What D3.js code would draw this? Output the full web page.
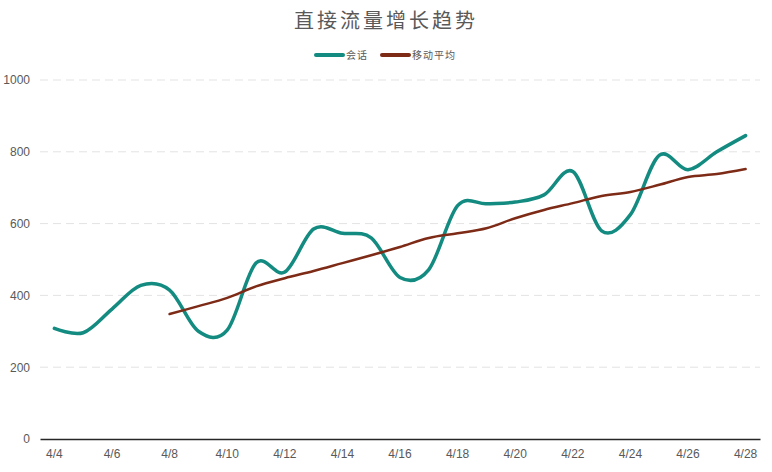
<!DOCTYPE html>
<html><head><meta charset="utf-8">
<script src="https://cdn.jsdelivr.net/npm/d3@7/dist/d3.min.js"></script>
<style>body{margin:0;background:#fff}svg{display:block}</style>
</head><body>
<script>
const dates = ["4/4","4/5","4/6","4/7","4/8","4/9","4/10","4/11","4/12","4/13","4/14","4/15","4/16","4/17","4/18","4/19","4/20","4/21","4/22","4/23","4/24","4/25","4/26","4/27","4/28"];
const sessions = [308,296,362,428,415,300,303,490,465,585,573,560,450,472,650,655,660,680,745,580,625,790,750,800,845];
const movingAvg = [null,null,null,null,348,370,393,425,448,468,490,512,535,560,573,587,615,638,657,677,688,708,730,738,752];
const yTicks = [0,200,400,600,800,1000];
const tickLabels = dates.filter((d,i)=>i%2===0);

const W=772,H=472, m={l:40,r:12,t:80,b:33};
const svg=d3.select("body").append("svg").attr("width",W).attr("height",H);
const x=d3.scaleBand().domain(dates).range([m.l,W-m.r]);
const y=d3.scaleLinear().domain([0,1000]).range([H-m.b,m.t]);
const cx=d=>x(d)+x.bandwidth()/2;
const font="'Liberation Sans', Arial, sans-serif";

svg.append("text").attr("x",386).attr("y",28).attr("text-anchor","middle")
  .attr("font-family","'Noto Sans CJK SC'").attr("font-size",20).attr("fill","#595959")
  .attr("letter-spacing",3).text("直接流量增长趋势");

// grid
svg.append("g").selectAll("line").data(yTicks.filter(v=>v>0)).join("line")
  .attr("x1",m.l).attr("x2",W-m.r).attr("y1",d=>y(d)).attr("y2",d=>y(d))
  .attr("stroke","#e3e3e3").attr("stroke-width",1).attr("stroke-dasharray","8,5");

const ya=svg.append("g").attr("transform",`translate(${m.l},0)`)
  .call(d3.axisLeft(y).tickValues(yTicks).tickFormat(d3.format("d")).tickSize(0).tickPadding(10));
ya.select(".domain").remove();
ya.selectAll("text").attr("font-family",font).attr("font-size",12).attr("fill","#595959");

const xa=svg.append("g").attr("transform",`translate(0,${H-m.b})`)
  .call(d3.axisBottom(x).tickValues(tickLabels).tickSize(0).tickPadding(10));
xa.select(".domain").attr("stroke","#262626").attr("stroke-width",1.5);
xa.selectAll("text").attr("font-family",font).attr("font-size",12).attr("fill","#595959");

const curve=d3.curveCardinal.tension(0);
const line=d3.line().defined(d=>d[1]!=null).x(d=>cx(d[0])).y(d=>y(d[1])).curve(curve);
svg.append("path").datum(dates.map((d,i)=>[d,sessions[i]]))
  .attr("d",line).attr("fill","none").attr("stroke","#138B80").attr("stroke-width",3.5).attr("stroke-linecap","round");
svg.append("path").datum(dates.map((d,i)=>[d,movingAvg[i]]).filter(d=>d[1]!=null))
  .attr("d",line).attr("fill","none").attr("stroke","#7D2A16").attr("stroke-width",2.5).attr("stroke-linecap","round");

// legend
const leg=[{n:"会话",c:"#138B80",x:316},{n:"移动平均",c:"#7D2A16",x:382}];
const lg=svg.append("g");
leg.forEach(l=>{
  lg.append("line").attr("x1",l.x).attr("x2",l.x+27).attr("y1",55).attr("y2",55)
    .attr("stroke",l.c).attr("stroke-width",4).attr("stroke-linecap","round");
  lg.append("text").attr("x",l.x+30).attr("y",59).attr("font-family","'Noto Sans CJK SC'")
    .attr("font-size",10).attr("letter-spacing",1).attr("fill","#595959").text(l.n);
});
</script>
</body></html>
